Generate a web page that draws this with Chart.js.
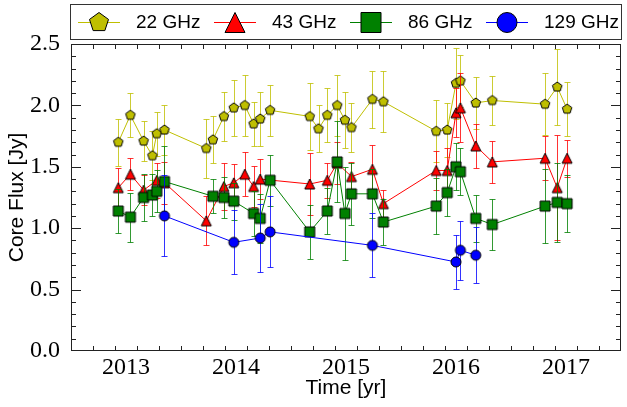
<!DOCTYPE html>
<html>
<head>
<meta charset="utf-8">
<script src="https://cdn.jsdelivr.net/npm/chart.js@4.4.1/dist/chart.umd.min.js"></script>
<style>
  html, body { margin: 0; padding: 0; background: #fff; }
</style>
</head>
<body>
<canvas id="chart" width="627" height="407"></canvas>
<script>
// epochs (yr), core flux (Jy) and 1-sigma errors per frequency
var t22 = [2012.93, 2013.04, 2013.16, 2013.24, 2013.28, 2013.35, 2013.73, 2013.79, 2013.89, 2013.98, 2014.08,
  2014.16, 2014.22, 2014.31, 2014.67, 2014.75, 2014.83, 2014.92, 2014.99, 2015.05, 2015.24, 2015.34,
  2015.82, 2015.92, 2016.00, 2016.04, 2016.18, 2016.33, 2016.81, 2016.92, 2017.01];
var f22 = [1.70, 1.92, 1.71, 1.59, 1.77, 1.80, 1.65, 1.72, 1.91, 1.98, 2.00,
  1.85, 1.89, 1.96, 1.91, 1.81, 1.92, 2.00, 1.88, 1.82, 2.05, 2.03,
  1.79, 1.80, 2.18, 2.20, 2.02, 2.04, 2.01, 2.15, 1.97];
var e22 = [0.19, 0.18, 0.16, 0.20, 0.18, 0.20, 0.24, 0.19, 0.20, 0.23, 0.25,
  0.18, 0.22, 0.21, 0.27, 0.19, 0.22, 0.25, 0.23, 0.20, 0.23, 0.25,
  0.25, 0.22, 0.29, 0.21, 0.21, 0.20, 0.25, 0.31, 0.22];

var t43 = [2012.93, 2013.04, 2013.16, 2013.28, 2013.35, 2013.73, 2013.89, 2013.98, 2014.08, 2014.16, 2014.22,
  2014.67, 2014.83, 2014.92, 2015.05, 2015.24, 2015.34, 2015.82, 2015.92, 2016.00, 2016.04, 2016.18,
  2016.33, 2016.81, 2016.92, 2017.01];
var f43 = [1.33, 1.44, 1.31, 1.39, 1.37, 1.06, 1.34, 1.37, 1.44, 1.34, 1.40,
  1.36, 1.39, 1.53, 1.42, 1.48, 1.20, 1.47, 1.47, 1.94, 1.98, 1.67,
  1.54, 1.57, 1.33, 1.57];
var e43 = [0.16, 0.13, 0.12, 0.14, 0.17, 0.20, 0.19, 0.15, 0.18, 0.17, 0.16,
  0.25, 0.14, 0.17, 0.12, 0.20, 0.11, 0.16, 0.18, 0.20, 0.28, 0.18,
  0.17, 0.18, 0.43, 0.15];

var t86 = [2012.93, 2013.04, 2013.16, 2013.24, 2013.28, 2013.35, 2013.79, 2013.89, 2013.98, 2014.16, 2014.22,
  2014.31, 2014.67, 2014.83, 2014.92, 2014.99, 2015.05, 2015.24, 2015.34, 2015.82, 2015.92, 2016.00,
  2016.04, 2016.18, 2016.33, 2016.81, 2016.92, 2017.01];
var f86 = [1.14, 1.09, 1.25, 1.27, 1.30, 1.38, 1.26, 1.25, 1.22, 1.12, 1.08,
  1.39, 0.97, 1.14, 1.54, 1.12, 1.28, 1.28, 1.05, 1.18, 1.29, 1.50,
  1.46, 1.08, 1.03, 1.18, 1.21, 1.20];
var e86 = [0.18, 0.20, 0.19, 0.17, 0.17, 0.29, 0.14, 0.17, 0.15, 0.18, 0.20,
  0.21, 0.22, 0.19, 0.33, 0.38, 0.25, 0.20, 0.19, 0.23, 0.19, 0.19,
  0.19, 0.19, 0.21, 0.30, 0.32, 0.23];

var t129 = [2013.35, 2013.98, 2014.22, 2014.31, 2015.24, 2016.00, 2016.04, 2016.18];
var f129 = [1.10, 0.885, 0.92, 0.97, 0.86, 0.725, 0.82, 0.78];
var e129 = [0.33, 0.26, 0.28, 0.29, 0.26, 0.22, 0.24, 0.23];

var labels = ['22 GHz', '43 GHz', '86 GHz', '129 GHz'];
var yearTicks = [2013, 2014, 2015, 2016, 2017];
var fluxTicks = [0.0, 0.5, 1.0, 1.5, 2.0, 2.5];

var colors = ['#bfbf00', '#ff0000', '#008000', '#0000ff'];
var errColors = ['rgba(191,191,0,0.8)', 'rgba(255,0,0,0.8)', 'rgba(0,128,0,0.8)', 'rgba(0,0,255,0.8)'];
var shapes = ['pentagon', 'triangle', 'square', 'circle'];

// draw a matplotlib-like marker on a context
function drawMarker(g, shape, fill, cx, cy, ms) {
  var r = ms / 2;
  g.beginPath();
  if (shape === 'pentagon') {
    for (var i = 0; i < 5; i++) {
      var a = -Math.PI / 2 + i * 2 * Math.PI / 5;
      var px = cx + r * Math.cos(a), py = cy + r * Math.sin(a);
      if (i === 0) g.moveTo(px, py); else g.lineTo(px, py);
    }
    g.closePath();
  } else if (shape === 'triangle') {
    g.moveTo(cx, cy - r);
    g.lineTo(cx + r, cy + r);
    g.lineTo(cx - r, cy + r);
    g.closePath();
  } else if (shape === 'square') {
    g.rect(cx - r, cy - r, 2 * r, 2 * r);
  } else {
    g.arc(cx, cy, r, 0, Math.PI * 2);
  }
  g.fillStyle = fill;
  g.fill();
  g.strokeStyle = '#000';
  g.lineWidth = 1;
  g.stroke();
}

function markerCanvas(shape, fill, ms) {
  var c = document.createElement('canvas');
  c.width = ms + 4;
  c.height = ms + 4;
  drawMarker(c.getContext('2d'), shape, fill, c.width / 2, c.height / 2, ms);
  return c;
}

function toPoints(t, f) {
  return t.map(function (x, i) { return { x: x, y: f[i] }; });
}

var allT = [t22, t43, t86, t129];
var allF = [f22, f43, f86, f129];
var allE = [e22, e43, e86, e129];

var datasets = labels.map(function (lab, k) {
  return {
    label: lab,
    data: toPoints(allT[k], allF[k]),
    errors: allE[k],
    borderColor: colors[k],
    backgroundColor: colors[k],
    borderWidth: 1,
    pointStyle: markerCanvas(shapes[k], colors[k], 10),
    pointRadius: 5,
    showLine: true,
    order: 4 - k
  };
});

// vertical error bars with caps, drawn just before each series
var errorBars = {
  id: 'errorBars',
  beforeDatasetDraw: function (chart, args) {
    var ds = chart.data.datasets[args.index];
    var xs = chart.scales.x, ys = chart.scales.y, ctx = chart.ctx, a = chart.chartArea;
    ctx.save();
    ctx.beginPath();
    ctx.rect(a.left, a.top, a.right - a.left, a.bottom - a.top);
    ctx.clip();
    ctx.strokeStyle = errColors[args.index];
    ctx.lineWidth = 1;
    ds.data.forEach(function (p, i) {
      var x = Math.round(xs.getPixelForValue(p.x)) + 0.5;
      var y1 = Math.round(ys.getPixelForValue(p.y - ds.errors[i])) + 0.5;
      var y2 = Math.round(ys.getPixelForValue(p.y + ds.errors[i])) + 0.5;
      ctx.beginPath();
      ctx.moveTo(x, y1); ctx.lineTo(x, y2);
      ctx.moveTo(x - 3, y1); ctx.lineTo(x + 3, y1);
      ctx.moveTo(x - 3, y2); ctx.lineTo(x + 3, y2);
      ctx.stroke();
    });
    ctx.restore();
  }
};

// box frame with inward ticks on all four sides
var frame = {
  id: 'frame',
  afterDatasetsDraw: function (chart) {
    var ctx = chart.ctx, a = chart.chartArea, xs = chart.scales.x, ys = chart.scales.y;
    ctx.save();
    ctx.strokeStyle = '#222';
    ctx.lineWidth = 1;
    ctx.strokeRect(a.left + 0.5, a.top + 0.5, a.right - a.left - 1, a.bottom - a.top - 1);
    ctx.beginPath();
    for (var i = 1; i < 25; i++) {
      var v = xs.min + i * 0.2;
      var x = Math.round(xs.getPixelForValue(v)) + 0.5;
      var len = Math.abs(v - Math.round(v)) < 1e-6 ? 10 : 5;
      ctx.moveTo(x, a.bottom); ctx.lineTo(x, a.bottom - len);
      ctx.moveTo(x, a.top); ctx.lineTo(x, a.top + len);
    }
    for (var j = 1; j < 25; j++) {
      var w = j * 0.1;
      var y = Math.round(ys.getPixelForValue(w)) + 0.5;
      var l2 = j % 5 === 0 ? 10 : 5;
      ctx.moveTo(a.left, y); ctx.lineTo(a.left + l2, y);
      ctx.moveTo(a.right, y); ctx.lineTo(a.right - l2, y);
    }
    ctx.stroke();
    ctx.restore();
  }
};

// framed legend above the plot, markers at double size
var topLegend = {
  id: 'topLegend',
  afterDraw: function (chart) {
    var ctx = chart.ctx;
    var cy = 22;
    ctx.save();
    ctx.font = '19px "Liberation Sans", Arial, sans-serif';
    ctx.textBaseline = 'middle';
    labels.forEach(function (lab, k) {
      var mx = 99 + 136 * k;
      ctx.strokeStyle = colors[k];
      ctx.lineWidth = 1;
      ctx.beginPath();
      ctx.moveTo(mx - 21, cy + 0.5); ctx.lineTo(mx + 21, cy + 0.5);
      ctx.stroke();
      drawMarker(ctx, shapes[k], colors[k], mx, cy + 0.5, 20);
      ctx.fillStyle = '#000';
      ctx.fillText(lab, mx + 37, cy + 1);
    });
    ctx.strokeStyle = '#333';
    ctx.lineWidth = 1;
    ctx.strokeRect(70.5, 4.5, 551, 35);
    ctx.restore();
  }
};

new Chart(document.getElementById('chart'), {
  type: 'line',
  data: { datasets: datasets },
  options: {
    responsive: false,
    animation: false,
    layout: { padding: { top: 44, left: 0, right: 0, bottom: 0 } },
    elements: { line: { tension: 0 } },
    plugins: { legend: { display: false }, tooltip: { enabled: false } },
    scales: {
      x: {
        type: 'linear',
        min: 2012.5,
        max: 2017.5,
        grid: { display: false },
        border: { display: false },
        afterBuildTicks: function (s) { s.ticks = yearTicks.map(function (v) { return { value: v }; }); },
        afterFit: function (s) { s.height = 56; },
        ticks: {
          color: '#000',
          padding: -6,
          font: { family: '"Liberation Serif", serif', size: 24 },
          callback: function (v) { return String(v); }
        },
        title: {
          display: true,
          text: 'Time [yr]',
          color: '#000',
          font: { family: '"Liberation Sans", Arial, sans-serif', size: 21 },
          padding: { top: 0, bottom: 6 }
        }
      },
      y: {
        min: 0,
        max: 2.5,
        grid: { display: false },
        border: { display: false },
        afterBuildTicks: function (s) { s.ticks = fluxTicks.map(function (v) { return { value: v }; }); },
        afterFit: function (s) { s.width = 71; },
        ticks: {
          color: '#000',
          padding: 3,
          font: { family: '"Liberation Serif", serif', size: 24 },
          callback: function (v) { return v.toFixed(1); }
        },
        title: {
          display: true,
          text: 'Core Flux [Jy]',
          color: '#000',
          font: { family: '"Liberation Sans", Arial, sans-serif', size: 21 },
          padding: { top: 5, bottom: 0 }
        }
      }
    }
  },
  plugins: [errorBars, frame, topLegend]
});
</script>
</body>
</html>
